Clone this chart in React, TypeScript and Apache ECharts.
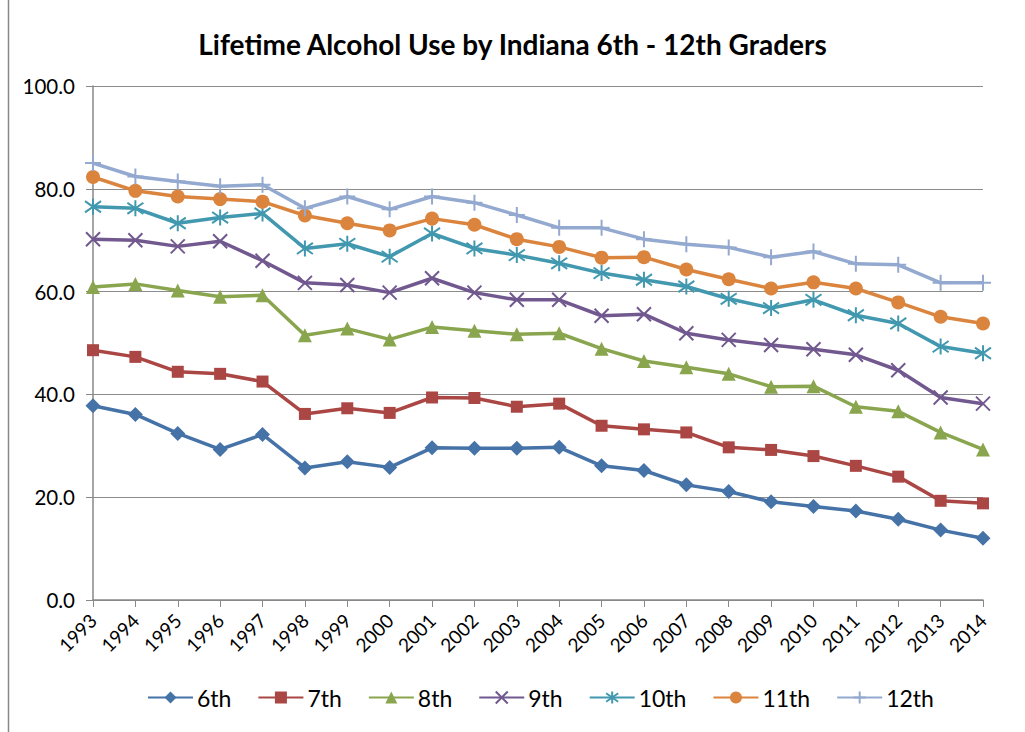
import React, { useEffect, useRef } from "react";
import * as echarts from "echarts";

const years = ["1993","1994","1995","1996","1997","1998","1999","2000","2001","2002","2003","2004","2005","2006","2007","2008","2009","2010","2011","2012","2013","2014"];
const g6 = [37.8,36.1,32.4,29.3,32.2,25.7,26.9,25.8,29.6,29.5,29.5,29.7,26.1,25.2,22.4,21.1,19.1,18.2,17.3,15.7,13.6,12.0];
const g7 = [48.6,47.3,44.4,44.0,42.5,36.2,37.3,36.4,39.4,39.3,37.6,38.2,33.9,33.2,32.6,29.7,29.2,28.0,26.1,24.0,19.3,18.8];
const g8 = [60.9,61.5,60.2,59.0,59.3,51.5,52.8,50.7,53.1,52.4,51.7,51.9,48.9,46.5,45.3,44.0,41.5,41.6,37.6,36.7,32.6,29.3];
const g9 = [70.2,70.0,68.8,69.8,66.0,61.7,61.3,59.8,62.6,59.8,58.4,58.4,55.3,55.6,51.9,50.6,49.6,48.8,47.7,44.7,39.4,38.2];
const g10 = [76.5,76.2,73.3,74.4,75.2,68.4,69.3,66.8,71.3,68.4,67.1,65.5,63.6,62.3,61.0,58.6,56.8,58.4,55.4,53.8,49.3,48.0];
const g11 = [82.3,79.6,78.5,78.0,77.5,74.8,73.3,71.9,74.2,73.0,70.2,68.7,66.6,66.7,64.3,62.4,60.6,61.8,60.6,57.9,55.1,53.8];
const g12 = [85.0,82.4,81.4,80.5,80.8,76.2,78.5,76.0,78.5,77.3,74.9,72.4,72.4,70.2,69.2,68.6,66.7,67.8,65.4,65.2,61.7,61.7];
const seriesNames = ["6th","7th","8th","9th","10th","11th","12th"];
const yTicks = [0, 20, 40, 60, 80, 100];

const colors = ["#4572a7", "#aa4643", "#89a54e", "#71588f", "#4198af", "#db843d", "#93a9cf"];

const X_PATH = "path://M0,0L10,10M10,0L0,10";
const STAR_PATH = "path://M1.5,1.5L8.5,8.5M8.5,1.5L1.5,8.5M5,0L5,10";
const PLUS_PATH = "path://M5,0L5,10M0,5L10,5";

const FONT = "Lato";

export default function App() {
  const ref = useRef<HTMLDivElement>(null);
  useEffect(() => {
    if (!ref.current) return;
    const chart = echarts.init(ref.current, null, { renderer: "svg" });
    const data = [g6, g7, g8, g9, g10, g11, g12];
    const symbols: any[] = [
      { symbol: "diamond", size: 15, filled: true },
      { symbol: "rect", size: 12, filled: true },
      { symbol: "triangle", size: 14, filled: true },
      { symbol: X_PATH, size: 14, filled: false },
      { symbol: STAR_PATH, size: 16, filled: false },
      { symbol: "circle", size: 14, filled: true },
      { symbol: PLUS_PATH, size: 16, filled: false },
    ];
    const series = data.map((d, i) => {
      const s = symbols[i];
      return {
        name: seriesNames[i],
        type: "line",
        data: d,
        symbol: s.symbol,
        symbolSize: s.size,
        showAllSymbol: true,
        lineStyle: { color: colors[i], width: 3.5 },
        itemStyle: s.filled
          ? { color: colors[i] }
          : { color: "rgba(0,0,0,0)", borderColor: colors[i], borderWidth: 2 },
        emphasis: { disabled: true },
        z: 2 + i,
      };
    });
    chart.setOption({
      animation: false,
      backgroundColor: "#ffffff",
      title: {
        text: "Lifetime Alcohol Use by Indiana 6th - 12th Graders",
        left: "center",
        top: 25,
        textStyle: { fontFamily: FONT, fontWeight: "bold", fontSize: 28, color: "#000" },
      },
      graphic: [
        { type: "line", shape: { x1: 8.5, y1: 0, x2: 8.5, y2: 732 }, style: { stroke: "#888", lineWidth: 1.5 } },
      ],
      legend: {
        data: seriesNames,
        bottom: 18,
        left: 142,
        itemWidth: 45,
        itemHeight: 15,
        itemGap: 26,
        textStyle: { fontFamily: FONT, fontSize: 23, color: "#000", padding: [0, 0, 0, -1] },
      },
      grid: { left: 93, right: 42, top: 86, bottom: 132, containLabel: false },
      xAxis: {
        type: "category",
        data: years,
        boundaryGap: false,
        axisLine: { lineStyle: { color: "#888", width: 1.5 } },
        axisTick: { show: true, length: 7, alignWithLabel: true, lineStyle: { color: "#888" } },
        axisLabel: { rotate: 45, fontFamily: FONT, fontSize: 19, color: "#000", margin: 17, interval: 0 },
        splitLine: { show: false },
      },
      yAxis: {
        type: "value",
        min: yTicks[0],
        max: yTicks[yTicks.length - 1],
        interval: 20,
        axisLine: { show: true, lineStyle: { color: "#888", width: 1.5 } },
        axisTick: { show: true, length: 7, lineStyle: { color: "#888" } },
        axisLabel: { fontFamily: FONT, fontSize: 20.5, color: "#000", margin: 18, formatter: (v: number) => v.toFixed(1) },
        splitLine: { show: true, lineStyle: { color: "#8c8c8c", width: 1 } },
      },
      series,
    });
    return () => chart.dispose();
  }, []);
  return <div ref={ref} style={{ position: "absolute", left: 0, top: 0, width: 1025, height: 732 }} />;
}
